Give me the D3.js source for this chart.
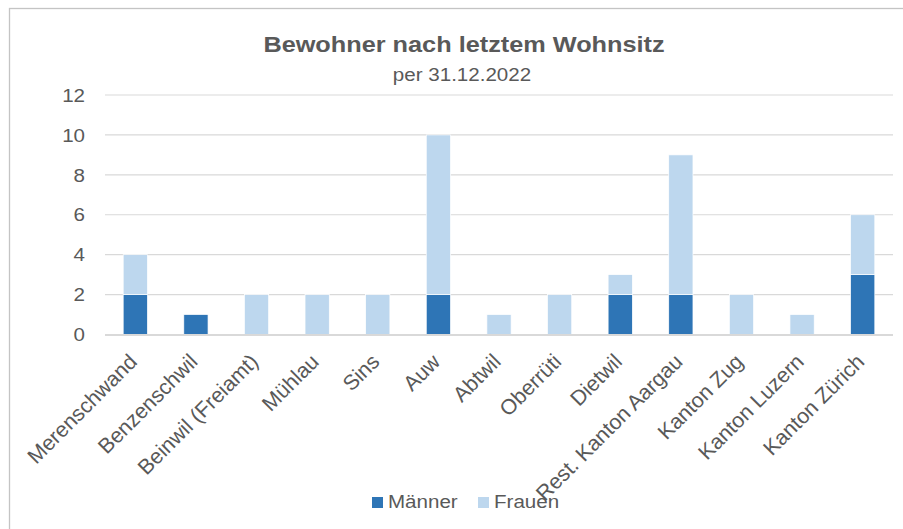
<!DOCTYPE html>
<html lang="de">
<head>
    <meta charset="UTF-8">
    <title>Bewohner nach letztem Wohnsitz</title>
    <script src="https://d3js.org/d3.v7.min.js"></script>
    <style>
        body { margin: 0; background: #fff; }
        svg text { font-family: "Liberation Sans", Arial, sans-serif; fill: #595959; }
    </style>
</head>
<body>
    <div id="chart"></div>
    <script>
        // Daten
        var orte = ["Merenschwand", "Benzenschwil", "Beinwil (Freiamt)", "Mühlau", "Sins", "Auw", "Abtwil",
                    "Oberrüti", "Dietwil", "Rest. Kanton Aargau", "Kanton Zug", "Kanton Luzern", "Kanton Zürich"];
        var maenner = [2, 1, 0, 0, 0, 2, 0, 0, 2, 2, 0, 0, 3];
        var frauen  = [2, 0, 2, 2, 2, 8, 1, 2, 1, 7, 2, 1, 3];
        var yTicks = [0, 2, 4, 6, 8, 10, 12];
        var serien = ["Männer", "Frauen"];
        var farben = ["#2E75B6", "#BDD7EE"];

        var width = 903, height = 529;
        var stretch = 1.1; // Text im Original leicht in die Breite gezogen

        var svg = d3.select("#chart").append("svg")
            .attr("width", width)
            .attr("height", height);

        svg.append("rect").attr("width", width).attr("height", height).attr("fill", "#fff");

        // Rahmen (rechts abgeschnitten)
        svg.append("rect")
            .attr("x", 9.5).attr("y", 8.5)
            .attr("width", 912).attr("height", 540)
            .attr("fill", "none")
            .attr("stroke", "#c4c4c4")
            .attr("stroke-width", 1.3);

        var x = d3.scaleBand().domain(orte).range([105, 893]).paddingInner(0.6).paddingOuter(0.3);
        var y = d3.scaleLinear().domain([0, 12]).range([334.5, 95]);

        // Gitterlinien
        svg.append("g").selectAll("line")
            .data(yTicks.filter(d => d > 0))
            .join("line")
            .attr("x1", 105).attr("x2", 893)
            .attr("y1", d => y(d)).attr("y2", d => y(d))
            .attr("stroke", "#d9d9d9")
            .attr("stroke-width", 1.2);

        // Y-Achse Beschriftung
        svg.append("g").selectAll("text")
            .data(yTicks)
            .join("text")
            .attr("text-anchor", "end")
            .attr("transform", d => "translate(85," + (y(d) + 6.7) + ") scale(" + stretch + ",1)")
            .style("font-size", "18.7px")
            .text(d => d);

        // gestapelte Balken
        var stack = d3.stack().keys([0, 1]).value((d, k) => k === 0 ? maenner[d] : frauen[d]);
        var layers = stack(d3.range(orte.length));

        svg.append("g").selectAll("g")
            .data(layers)
            .join("g")
            .attr("fill", (d, i) => farben[i])
            .selectAll("rect")
            .data(d => d.filter(s => s[1] - s[0] > 0))
            .join("rect")
            .attr("x", d => x(orte[d.data]))
            .attr("width", x.bandwidth())
            .attr("y", d => y(d[1]))
            .attr("height", d => y(d[0]) - y(d[1]))
            .attr("stroke", "#fff")
            .attr("stroke-width", 0.7);

        // X-Achse
        svg.append("line")
            .attr("x1", 105).attr("x2", 893)
            .attr("y1", y(0) + 0.5).attr("y2", y(0) + 0.5)
            .attr("stroke", "#d9d9d9")
            .attr("stroke-width", 2);

        svg.append("g").selectAll("text")
            .data(orte)
            .join("text")
            .attr("text-anchor", "end")
            .attr("transform", d => "translate(" + (x(d) + x.bandwidth() / 2 + 3) + ",363) rotate(-45)")
            .style("font-size", "21.3px")
            .text(d => d);

        // Titel
        svg.append("text")
            .attr("text-anchor", "middle")
            .attr("transform", "translate(464,52) scale(1.15,1)")
            .style("font-size", "22px")
            .style("font-weight", "bold")
            .text("Bewohner nach letztem Wohnsitz");

        svg.append("text")
            .attr("text-anchor", "middle")
            .attr("transform", "translate(462,80.7) scale(" + stretch + ",1)")
            .style("font-size", "18.7px")
            .text("per 31.12.2022");

        // Legende
        var legendX = [372, 478];
        var legend = svg.append("g").selectAll("g")
            .data(serien)
            .join("g")
            .attr("transform", (d, i) => "translate(" + legendX[i] + ",497)");

        legend.append("rect")
            .attr("width", 11).attr("height", 11)
            .attr("fill", (d, i) => farben[i]);

        legend.append("text")
            .attr("transform", "translate(16,11) scale(" + stretch + ",1)")
            .style("font-size", "18.7px")
            .text(d => d);
    </script>
</body>
</html>
